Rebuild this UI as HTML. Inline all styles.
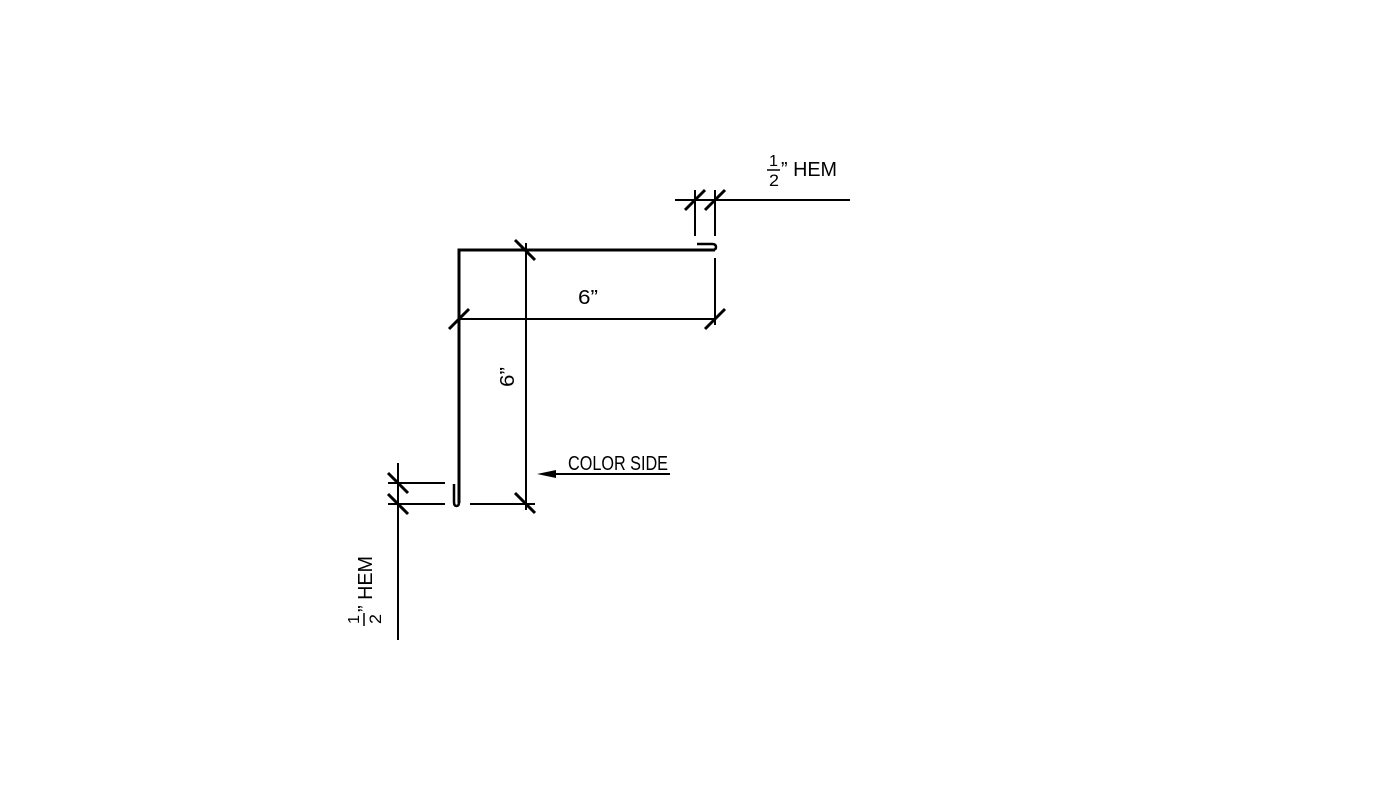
<!DOCTYPE html>
<html><head><style>html,body{margin:0;padding:0;background:#fff;width:1400px;height:788px;overflow:hidden}</style></head>
<body>
<svg width="1400" height="788" viewBox="0 0 1400 788" xmlns="http://www.w3.org/2000/svg" font-family="'Liberation Sans',sans-serif">
<g stroke="#000" fill="none" stroke-linecap="butt">
<path d="M459 503 V250 H715" stroke-width="3"/>
<path d="M697 244 H712 Q716 244 716 247 Q716 250 712 250" stroke-width="2.5"/>
<path d="M454 484 V502 Q454 506 456.5 506 Q459 506 459 502" stroke-width="2.5"/>
<g stroke-width="2">
<line x1="675" y1="200" x2="850" y2="200"/>
<line x1="695" y1="190" x2="695" y2="236"/>
<line x1="715" y1="190" x2="715" y2="236"/>
<line x1="715" y1="258" x2="715" y2="325"/>
<line x1="459" y1="319" x2="716" y2="319"/>
<line x1="526" y1="243" x2="526" y2="510"/>
<line x1="388" y1="483" x2="445" y2="483"/>
<line x1="388" y1="504" x2="445" y2="504"/>
<line x1="470" y1="504" x2="535" y2="504"/>
<line x1="398" y1="463" x2="398" y2="640"/>
<line x1="548" y1="474" x2="670" y2="474"/>
</g>
<g stroke-width="3">
<line x1="685" y1="210" x2="705" y2="190"/>
<line x1="705" y1="210" x2="725" y2="190"/>
<line x1="449" y1="329" x2="469" y2="309"/>
<line x1="705" y1="329" x2="725" y2="309"/>
<line x1="515" y1="240" x2="535" y2="260"/>
<line x1="515" y1="493" x2="535" y2="513"/>
<line x1="388" y1="473" x2="408" y2="493"/>
<line x1="388" y1="494" x2="408" y2="514"/>
</g>
</g>
<polygon points="537,474 556,470 556,478" fill="#000"/>
<g fill="#000" font-size="20">
<text x="578" y="304" textLength="20" lengthAdjust="spacingAndGlyphs">6”</text>
<text transform="translate(514,387) rotate(-90)" textLength="20" lengthAdjust="spacingAndGlyphs">6”</text>
<text x="568" y="470" textLength="100" lengthAdjust="spacingAndGlyphs">COLOR SIDE</text>
<text x="769" y="166" font-size="16" textLength="9" lengthAdjust="spacingAndGlyphs">1</text>
<line x1="767" y1="170" x2="780" y2="170" stroke="#000" stroke-width="1.5"/>
<text x="769" y="186" font-size="17" textLength="10" lengthAdjust="spacingAndGlyphs">2</text>
<text x="781" y="176" textLength="56" lengthAdjust="spacingAndGlyphs">” HEM</text>
<g transform="translate(370,625) rotate(-90)">
<text x="1" y="-11" font-size="16" textLength="9" lengthAdjust="spacingAndGlyphs">1</text>
<line x1="-1" y1="-6" x2="12" y2="-6" stroke="#000" stroke-width="1.5"/>
<text x="1" y="11" font-size="17" textLength="10" lengthAdjust="spacingAndGlyphs">2</text>
<text x="13" y="2" textLength="56" lengthAdjust="spacingAndGlyphs">” HEM</text>
</g>
</g>
</svg>
</body></html>
